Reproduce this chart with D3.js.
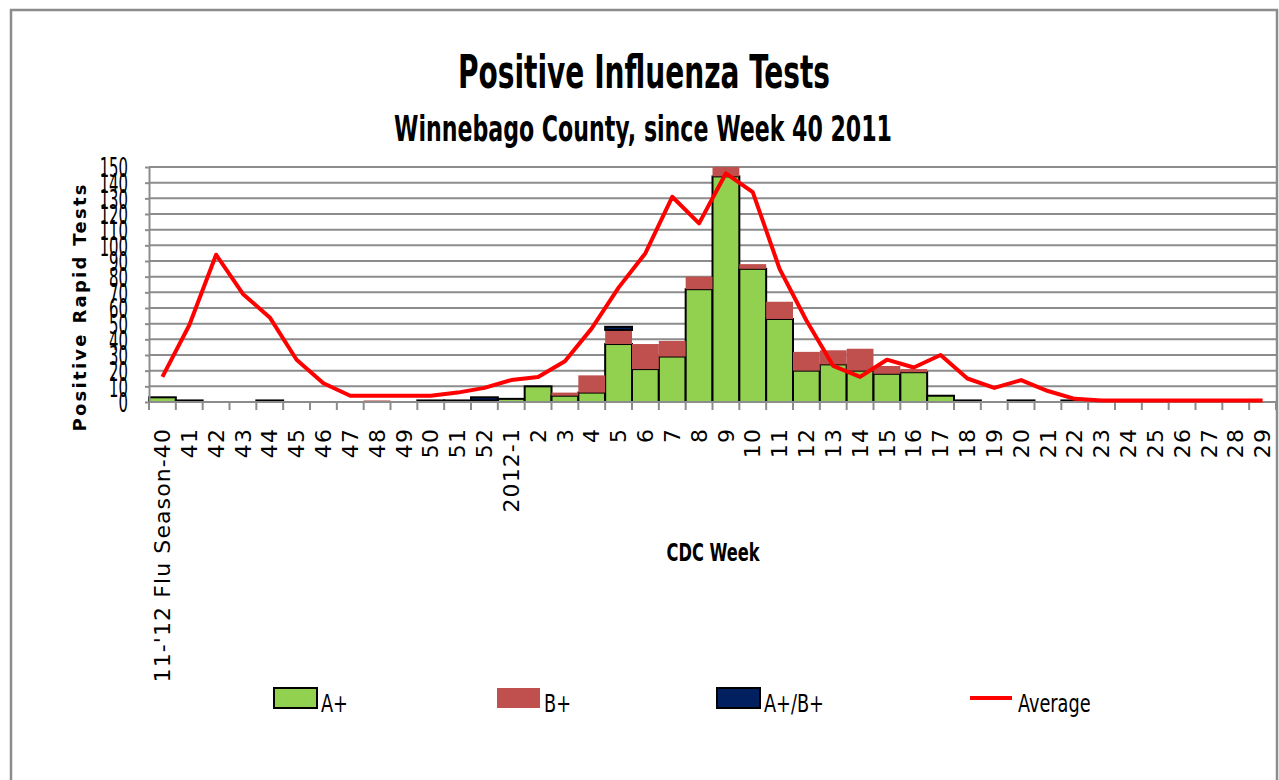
<!DOCTYPE html>
<html>
<head>
<meta charset="utf-8">
<script src="https://cdn.jsdelivr.net/npm/d3@7"></script>
<style>
body { margin: 0; background: #fff; }
</style>
</head>
<body>
<div class="container"></div>
<script>
const WIDTH = 1279;
const HEIGHT = 780;

var weeks = ["11-'12 Flu Season-40", "41", "42", "43", "44", "45", "46", "47", "48", "49",
    "50", "51", "52", "2012-1", "2", "3", "4", "5", "6", "7", "8", "9", "10", "11", "12",
    "13", "14", "15", "16", "17", "18", "19", "20", "21", "22", "23", "24", "25", "26",
    "27", "28", "29"];

var aPos = [3, 1, 0, 0, 1, 0, 0, 0, 0, 0, 1, 1, 1, 2, 10, 4, 6, 37, 21, 29, 72, 144, 85, 53, 20,
    24, 20, 18, 19, 4, 1, 0, 1, 0, 1, 0, 0, 0, 0, 0, 0, 0];
var bPos = [0, 0, 0, 0, 0, 0, 0, 0, 1, 0, 0, 0, 0, 0, 0, 2, 11, 9, 16, 10, 8, 6, 3, 11, 12,
    9, 14, 5, 2, 0, 0, 0, 0, 0, 0, 0, 0, 0, 0, 0, 0, 0];
var abPos = [0, 0, 0, 0, 0, 0, 0, 0, 0, 0, 0, 0, 2, 0, 0, 0, 0, 2, 0, 0, 0, 0, 0, 0, 0,
    0, 0, 0, 0, 0, 0, 0, 0, 0, 0, 0, 0, 0, 0, 0, 0, 0];
var average = [16, 49, 94, 69, 54, 27, 12, 4, 4, 4, 4, 6, 9, 14, 16, 26, 47, 73, 95, 131, 114,
    146, 134, 85, 52, 23, 16, 27, 22, 30, 15, 9, 14, 7, 2, 1, 1, 1, 1, 1, 1, 1];

var yTicks = [0, 10, 20, 30, 40, 50, 60, 70, 80, 90, 100, 110, 120, 130, 140, 150];
var seriesKeys = ["A+", "B+", "A+/B+"];
var legendLabels = ["A+", "B+", "A+/B+", "Average"];

var colors = {"A+": "#92D050", "B+": "#C0504D", "A+/B+": "#002060"};
var strokes = {"A+": "#000", "B+": "none", "A+/B+": "#000"};

var PLOT = {left: 149, right: 1276, top: 167, bottom: 402};
var NARROW = "'Liberation Sans Narrow', 'DejaVu Sans Condensed', sans-serif";

// squeeze text horizontally so the wide fallback font fits like the original
var squeeze = function(selection, k){
    selection.each(function(){
        var w = this.getComputedTextLength();
        d3.select(this)
            .attr("textLength", w * k)
            .attr("lengthAdjust", "spacingAndGlyphs");
    });
};

var drawFrame = function(svg){
    svg.append("rect")
        .attr("x", 11).attr("y", 10)
        .attr("width", 1266).attr("height", 800)
        .attr("fill", "none")
        .attr("stroke", "#8c8c8c")
        .attr("stroke-width", 2.5);
};

var drawTitles = function(svg){
    svg.append("text")
        .attr("x", 644).attr("y", 88)
        .attr("text-anchor", "middle")
        .attr("textLength", 372).attr("lengthAdjust", "spacingAndGlyphs")
        .style("font", "bold 46px " + NARROW)
        .text("Positive Influenza Tests");

    svg.append("text")
        .attr("x", 643).attr("y", 141)
        .attr("text-anchor", "middle")
        .attr("textLength", 498).attr("lengthAdjust", "spacingAndGlyphs")
        .style("font", "bold 36px " + NARROW)
        .text("Winnebago County, since Week 40 2011");

    svg.append("text")
        .attr("transform", "translate(80,308) rotate(-90)")
        .attr("dy", "0.35em")
        .attr("text-anchor", "middle")
        .attr("textLength", 247).attr("lengthAdjust", "spacing")
        .style("font", "bold 18px 'DejaVu Sans', sans-serif")
        .text("Positive Rapid Tests");

    svg.append("text")
        .attr("x", 713).attr("y", 561)
        .attr("text-anchor", "middle")
        .attr("textLength", 93).attr("lengthAdjust", "spacingAndGlyphs")
        .style("font", "bold 24px " + NARROW)
        .text("CDC Week");
};

var drawGrid = function(svg, y){
    svg.append("g")
        .selectAll("line")
        .data(yTicks.filter(function(d){ return d > 0; }))
        .enter()
        .append("line")
        .attr("x1", PLOT.left).attr("x2", PLOT.right)
        .attr("y1", function(d){ return y(d); })
        .attr("y2", function(d){ return y(d); })
        .attr("stroke", "#8c8c8c")
        .attr("stroke-width", 2);
};

var drawBars = function(svg, x, y){
    var table = weeks.map(function(w, i){
        return {week: w, "A+": aPos[i], "B+": bPos[i], "A+/B+": abPos[i]};
    });
    var stacked = d3.stack().keys(seriesKeys)(table);

    var layers = svg.append("g")
        .selectAll("g")
        .data(stacked)
        .enter()
        .append("g")
        .attr("fill", function(d){ return colors[d.key]; })
        .attr("stroke", function(d){ return strokes[d.key]; })
        .attr("stroke-width", 2);

    layers.selectAll("rect")
        .data(function(d){ return d.filter(function(p){ return p[1] > p[0]; }); })
        .enter()
        .append("rect")
        .attr("x", function(d){ return x(d.data.week); })
        .attr("width", x.bandwidth())
        .attr("y", function(d){ return y(d[1]); })
        .attr("height", function(d){ return y(d[0]) - y(d[1]); });
};

var drawAxes = function(svg, x, y){
    var yAxis = d3.axisLeft(y).tickValues(yTicks).tickSize(4).tickSizeOuter(0);
    var gy = svg.append("g")
        .attr("transform", "translate(" + PLOT.left + ",0)")
        .call(yAxis);
    gy.select(".domain").attr("stroke", "#8c8c8c").attr("stroke-width", 2);
    gy.selectAll(".tick line").attr("stroke", "#8c8c8c").attr("stroke-width", 2);
    gy.selectAll(".tick text")
        .attr("transform", "scale(0.55,1)")
        .attr("x", -21 / 0.55)
        .attr("dy", "0.36em")
        .attr("fill", "#000")
        .style("font", "27px 'DejaVu Sans', sans-serif");

    var xAxis = d3.axisBottom(x).tickSize(0);
    var gx = svg.append("g")
        .attr("transform", "translate(0," + PLOT.bottom + ")")
        .call(xAxis);
    gx.select(".domain").remove();
    gx.selectAll(".tick text")
        .attr("transform", "rotate(-90)")
        .attr("x", -26)
        .attr("y", 0)
        .attr("dy", "0.35em")
        .attr("fill", "#000")
        .style("text-anchor", "end")
        .style("letter-spacing", "1.1px")
        .style("font", "22px 'DejaVu Sans', sans-serif");

    svg.append("line")
        .attr("x1", PLOT.left).attr("x2", PLOT.right)
        .attr("y1", PLOT.bottom).attr("y2", PLOT.bottom)
        .attr("stroke", "#8c8c8c")
        .attr("stroke-width", 2);

    svg.append("g")
        .selectAll("line")
        .data(weeks.concat(["end"]))
        .enter()
        .append("line")
        .attr("x1", function(d, i){ return PLOT.left + i * x.step(); })
        .attr("x2", function(d, i){ return PLOT.left + i * x.step(); })
        .attr("y1", PLOT.bottom)
        .attr("y2", PLOT.bottom + 8)
        .attr("stroke", "#8c8c8c")
        .attr("stroke-width", 2);
};

var drawAverage = function(svg, x, y){
    var line = d3.line()
        .x(function(d, i){ return x(weeks[i]) + x.bandwidth() / 2; })
        .y(function(d){ return y(d); });

    svg.append("path")
        .datum(average)
        .attr("d", line)
        .attr("fill", "none")
        .attr("stroke", "#FF0000")
        .attr("stroke-width", 4)
        .attr("stroke-linejoin", "round");
};

var drawLegend = function(svg){
    var legendX = [274, 497, 717, 970];
    var items = svg.append("g")
        .selectAll("g")
        .data(legendLabels)
        .enter()
        .append("g")
        .attr("transform", function(d, i){ return "translate(" + legendX[i] + ",688)"; });

    items.filter(function(d){ return d !== "Average"; })
        .append("rect")
        .attr("width", 43).attr("height", 20)
        .attr("fill", function(d){ return colors[d]; })
        .attr("stroke", function(d){ return strokes[d]; })
        .attr("stroke-width", 2);

    items.filter(function(d){ return d === "Average"; })
        .append("line")
        .attr("x1", 0).attr("x2", 42)
        .attr("y1", 10).attr("y2", 10)
        .attr("stroke", "#FF0000")
        .attr("stroke-width", 4);

    items.append("text")
        .attr("x", function(d){ return d === "Average" ? 48 : 47; })
        .attr("y", 24)
        .style("font", "24px " + NARROW)
        .text(function(d){ return d; })
        .call(squeeze, 0.82);
};

var load = function(){
    var x = d3.scaleBand()
        .domain(weeks)
        .range([PLOT.left, PLOT.right])
        .padding(0);

    var y = d3.scaleLinear()
        .domain([0, 150])
        .range([PLOT.bottom, PLOT.top]);

    var svg = d3.select(".container")
        .append("svg")
        .attr("width", WIDTH)
        .attr("height", HEIGHT)
        .style("display", "block");

    drawFrame(svg);
    drawTitles(svg);
    drawGrid(svg, y);
    drawBars(svg, x, y);
    drawAxes(svg, x, y);
    drawAverage(svg, x, y);
    drawLegend(svg);
};

window.onload = load;
</script>
</body>
</html>
